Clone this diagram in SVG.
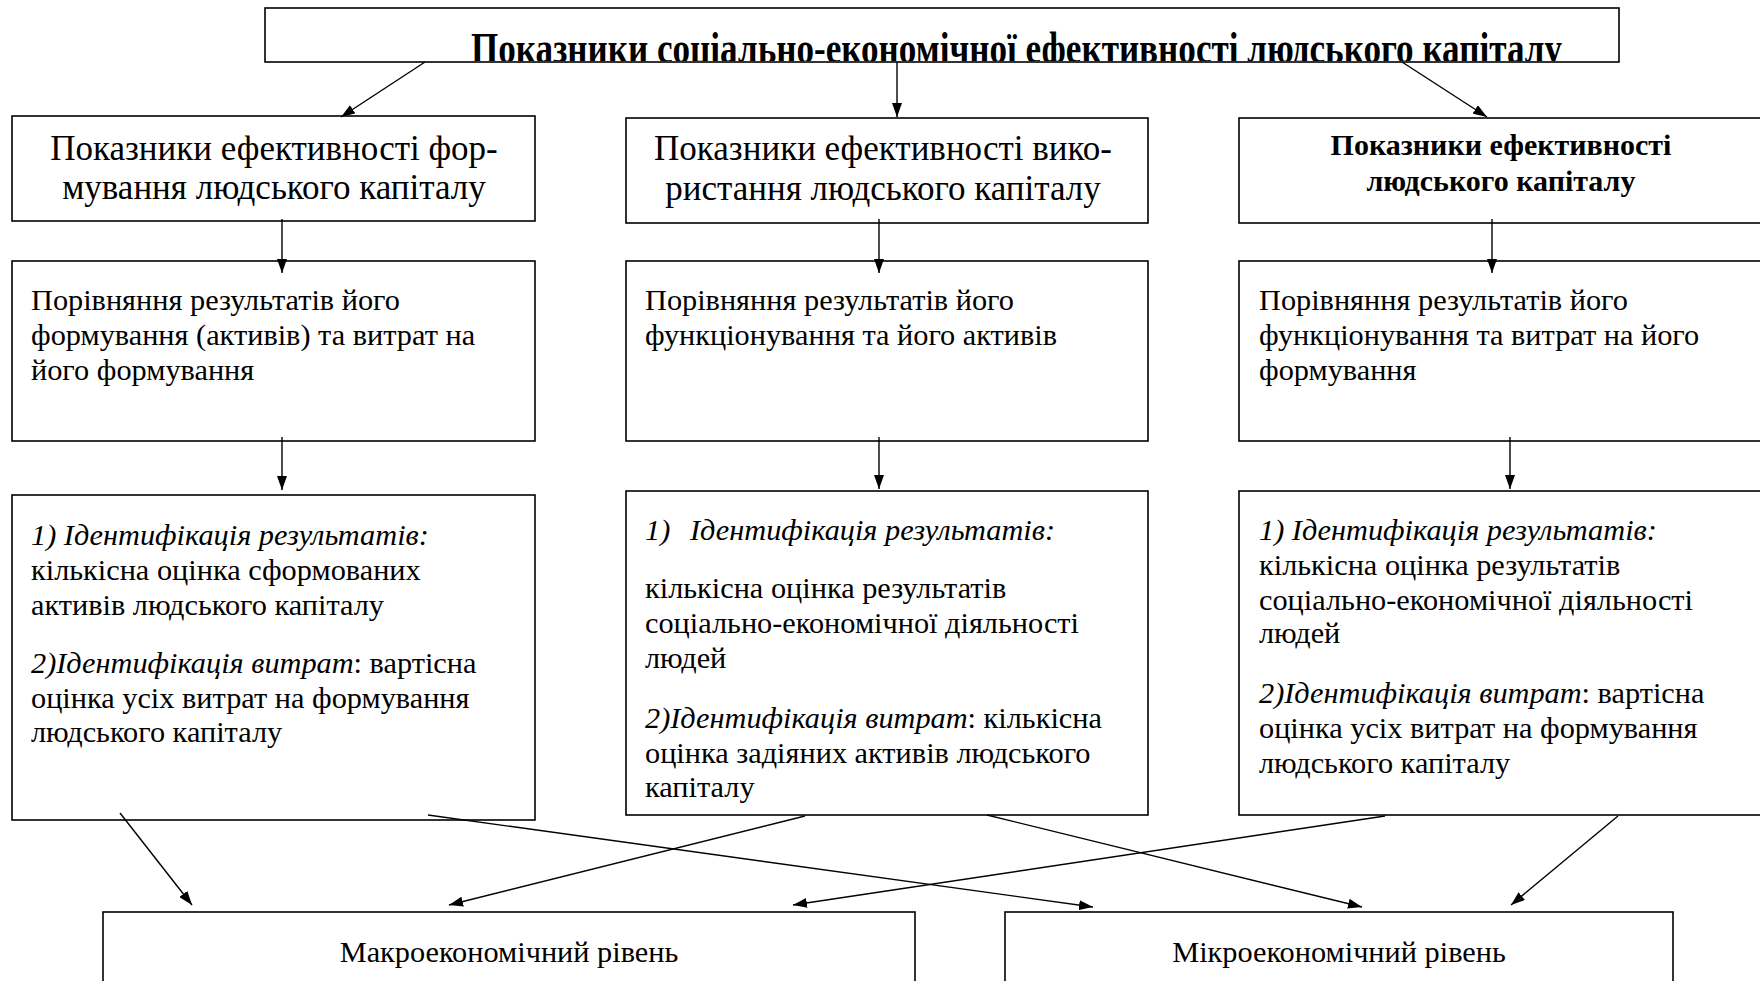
<svg xmlns="http://www.w3.org/2000/svg" width="1760" height="981" viewBox="0 0 1760 981">
<style>
.box{fill:#fff;stroke:#000;stroke-width:1.6}
.t{font-family:"Liberation Serif","Times New Roman",serif;fill:#000;font-size:30.3px}
.h{font-size:35px}
.b{font-weight:bold;font-size:30px}
.i{font-style:italic}
.c{stroke:#000;stroke-width:1.4;fill:none;marker-end:url(#ah)}
</style>
<defs>
<marker id="ah" viewBox="0 0 14 10" refX="14" refY="5" markerWidth="14" markerHeight="10" markerUnits="userSpaceOnUse" orient="auto"><path d="M0,0L14,5L0,10z" fill="#000"/></marker>
<clipPath id="tc"><rect x="266" y="9" width="1352" height="52"/></clipPath>
</defs>
<rect width="1760" height="981" fill="#fff"/>
<g id="title">
<rect class="box" x="265" y="8" width="1354" height="54"/>
<text class="t" clip-path="url(#tc)" x="471" y="63" style="font-size:44px;font-weight:bold" textLength="1091" lengthAdjust="spacingAndGlyphs">Показники соціально-економічної ефективності людського капіталу</text>
</g>
<g id="formHead">
<rect class="box" x="12" y="116" width="523" height="105"/>
<text class="t h" text-anchor="middle"><tspan x="274" y="160">Показники ефективності фор-</tspan><tspan x="274" y="199">мування людського капіталу</tspan></text>
</g>
<g id="useHead">
<rect class="box" x="626" y="118" width="522" height="105"/>
<text class="t h" text-anchor="middle"><tspan x="883" y="160">Показники ефективності вико-</tspan><tspan x="883" y="200">ристання людського капіталу</tspan></text>
</g>
<g id="effHead">
<rect class="box" x="1239" y="118" width="530" height="105"/>
<text class="t b" text-anchor="middle"><tspan x="1501" y="155">Показники ефективності</tspan><tspan x="1501" y="191">людського капіталу</tspan></text>
</g>
<g id="formCompare">
<rect class="box" x="12" y="261" width="523" height="180"/>
<text class="t"><tspan x="31" y="310">Порівняння результатів його</tspan><tspan x="31" y="345">формування (активів) та витрат на</tspan><tspan x="31" y="380">його формування</tspan></text>
</g>
<g id="useCompare">
<rect class="box" x="626" y="261" width="522" height="180"/>
<text class="t"><tspan x="645" y="310">Порівняння результатів його</tspan><tspan x="645" y="345">функціонування та його активів</tspan></text>
</g>
<g id="effCompare">
<rect class="box" x="1239" y="261" width="530" height="180"/>
<text class="t"><tspan x="1259" y="310">Порівняння результатів його</tspan><tspan x="1259" y="345">функціонування та витрат на його</tspan><tspan x="1259" y="380">формування</tspan></text>
</g>
<g id="formIdent">
<rect class="box" x="12" y="495" width="523" height="325"/>
<text class="t"><tspan class="i" x="31" y="545">1) Ідентифікація результатів:</tspan><tspan x="31" y="580">кількісна оцінка сформованих</tspan><tspan x="31" y="615">активів людського капіталу</tspan><tspan class="i" x="31" y="673">2)Ідентифікація витрат</tspan><tspan>: вартісна</tspan><tspan x="31" y="708">оцінка усіх витрат на формування</tspan><tspan x="31" y="742">людського капіталу</tspan></text>
</g>
<g id="useIdent">
<rect class="box" x="626" y="491" width="522" height="324"/>
<text class="t"><tspan class="i" x="645" y="540">1)</tspan><tspan class="i" x="690" y="540">Ідентифікація результатів:</tspan><tspan x="645" y="598">кількісна оцінка результатів</tspan><tspan x="645" y="633">соціально-економічної діяльності</tspan><tspan x="645" y="668">людей</tspan><tspan class="i" x="645" y="728">2)Ідентифікація витрат</tspan><tspan>: кількісна</tspan><tspan x="645" y="763">оцінка задіяних активів людського</tspan><tspan x="645" y="797">капіталу</tspan></text>
</g>
<g id="effIdent">
<rect class="box" x="1239" y="491" width="530" height="324"/>
<text class="t"><tspan class="i" x="1259" y="540">1) Ідентифікація результатів:</tspan><tspan x="1259" y="575">кількісна оцінка результатів</tspan><tspan x="1259" y="610">соціально-економічної діяльності</tspan><tspan x="1259" y="643">людей</tspan><tspan class="i" x="1259" y="703">2)Ідентифікація витрат</tspan><tspan>: вартісна</tspan><tspan x="1259" y="738">оцінка усіх витрат на формування</tspan><tspan x="1259" y="773">людського капіталу</tspan></text>
</g>
<g id="macro">
<rect class="box" x="103" y="912" width="812" height="90"/>
<text class="t" text-anchor="middle" x="509" y="962">Макроекономічний рівень</text>
</g>
<g id="micro">
<rect class="box" x="1005" y="912" width="668" height="90"/>
<text class="t" text-anchor="middle" x="1339" y="962">Мікроекономічний рівень</text>
</g>
<g id="connectors">
<line class="c" x1="425" y1="62" x2="341" y2="117"/>
<line class="c" x1="897" y1="62" x2="897" y2="117"/>
<line class="c" x1="1402" y1="62" x2="1487" y2="117"/>
<line class="c" x1="282" y1="219" x2="282" y2="273"/>
<line class="c" x1="879" y1="219" x2="879" y2="273"/>
<line class="c" x1="1492" y1="219" x2="1492" y2="273"/>
<line class="c" x1="282" y1="437" x2="282" y2="490"/>
<line class="c" x1="879" y1="437" x2="879" y2="489"/>
<line class="c" x1="1510" y1="437" x2="1510" y2="489"/>
<line class="c" x1="120" y1="813" x2="192" y2="905"/>
<line class="c" x1="428" y1="815" x2="1093" y2="907"/>
<line class="c" x1="805" y1="816" x2="449" y2="905"/>
<line class="c" x1="987" y1="815" x2="1362" y2="907"/>
<line class="c" x1="1385" y1="816" x2="793" y2="905"/>
<line class="c" x1="1618" y1="816" x2="1511" y2="905"/>
</g>
</svg>
